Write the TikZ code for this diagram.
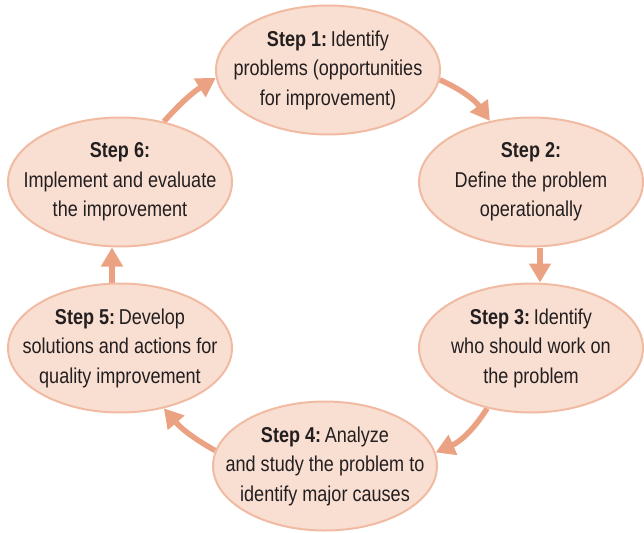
\documentclass[tikz,border=0pt]{standalone}
\usepackage{fontspec}
\setmainfont{Liberation Sans}[FakeStretch=0.84]
\usetikzlibrary{shapes.geometric,arrows.meta,backgrounds}
\definecolor{ellfill}{HTML}{F9DED2}
\definecolor{elldraw}{HTML}{F0BBA2}
\definecolor{arrcol}{HTML}{EBA283}
\definecolor{txtcol}{HTML}{231F20}
\tikzset{
  stepell/.style={ellipse, draw=elldraw, fill=ellfill, line width=2pt,
    minimum width=224pt, minimum height=129pt, inner sep=0pt},
  steptxt/.style={align=center, text=txtcol, inner sep=0pt,
    font=\fontsize{21.5}{29.5}\selectfont},
  cyc/.style={draw=arrcol, line width=5.5pt,
    -{Triangle[length=19pt,width=21pt]}}
}
\begin{document}
\begin{tikzpicture}[x=1pt,y=-1pt]
\useasboundingbox (0,0) rectangle (644,532);
\node[stepell] (s1) at (328,70) {};
\node[stepell] (s2) at (531,182) {};
\node[stepell] (s3) at (531,348) {};
\node[stepell] (s4) at (325,466) {};
\node[stepell] (s5) at (120,348) {};
\node[stepell] (s6) at (120,182) {};
\node[steptxt] (t1) at (s1) {\textbf{Step 1:}\,Identify\\problems (opportunities\\for improvement)};
\node[steptxt] (t2) at (s2) {\textbf{Step 2:}\\Define the problem\\operationally};
\node[steptxt] (t3) at (s3) {\textbf{Step 3:}\,Identify\\who should work on\\the problem};
\node[steptxt] (t4) at (s4) {\textbf{Step 4:}\,Analyze\\and study the problem to\\identify major causes};
\node[steptxt] (t5) at (s5) {\textbf{Step 5:}\,Develop\\solutions and actions for\\quality improvement};
\node[steptxt] (t6) at (s6) {\textbf{Step 6:}\\Implement and evaluate\\the improvement};
\begin{pgfonlayer}{background}
\draw[cyc] (s1.-5) to[bend left=15] (s2.124);
\draw[cyc] ([xshift=9pt]s2.south) -- ([xshift=9pt]s3.north);
\draw[cyc] (s3.234) to[bend left=17] (s4.7);
\draw[cyc] (s4.172) to[bend left=10] (s5.-54);
\draw[cyc] ([xshift=-8pt]s5.north) -- ([xshift=-8pt]s6.south);
\draw[cyc] (s6.54) to[bend left=8] (s1.184);
\end{pgfonlayer}
\end{tikzpicture}
\end{document}
